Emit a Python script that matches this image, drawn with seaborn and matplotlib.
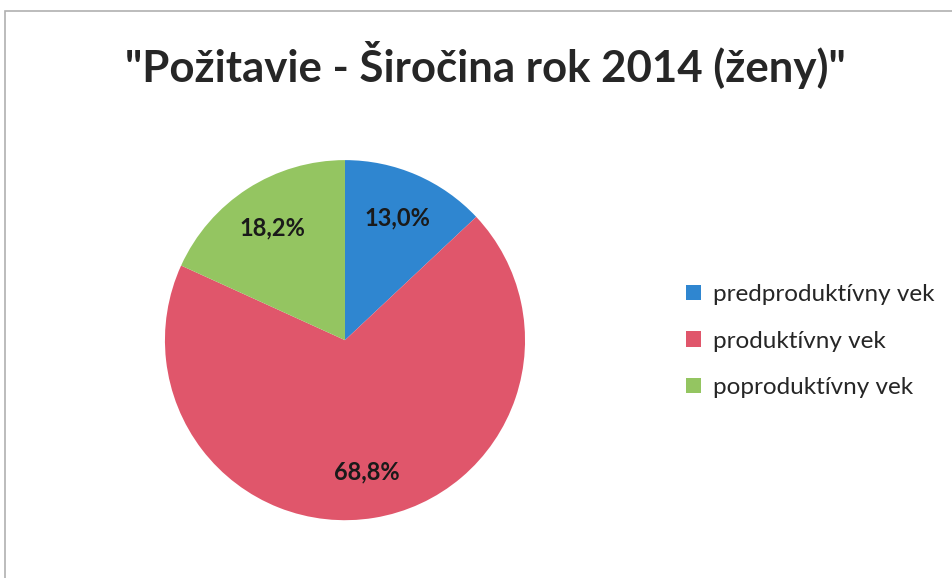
import matplotlib
matplotlib.use("Agg")
import matplotlib.pyplot as plt
import seaborn as sns
from matplotlib.patches import Rectangle

categories = ["predproduktívny vek", "produktívny vek", "poproduktívny vek"]
values = [13.0, 68.8, 18.2]
colors = ["#2f86d0", "#e0566b", "#94c561"]
title = '"Požitavie - Širočina rok 2014 (ženy)"'

sns.set_theme(style="white")
plt.rcParams["font.family"] = ["Lato", "DejaVu Sans"]

fig = plt.figure(figsize=(9.53, 5.78), dpi=100)
fig.patch.set_facecolor("white")

# light frame of the chart area (runs off the right and bottom)
fig.add_artist(Rectangle((5 / 953, -0.05), 1.2, 1 - 11 / 578 + 0.05,
                         transform=fig.transFigure, fill=False,
                         edgecolor="#b0b0b0", linewidth=1.2))

ax = fig.add_axes([0.173, 0.100, 0.378, 0.623])
wedges, texts, autotexts = ax.pie(
    values, colors=colors, startangle=90, counterclock=False,
    autopct=lambda p: f"{p:.1f}%".replace(".", ","), pctdistance=0.74,
    wedgeprops={"linewidth": 0},
    textprops={"fontsize": 17, "fontweight": "bold", "color": "#1a1a1a"})
ax.set_xlim(-1, 1)
ax.set_ylim(-1, 1)
ax.set_aspect("equal")

fig.text(0.509, 0.888, title, ha="center", va="center",
         fontsize=31.5, fontweight="bold", color="#262626")

fig.legend(wedges, categories, loc="center left",
           bbox_to_anchor=(0.697, 0.41), frameon=False,
           fontsize=17.5, handlelength=0.6, handleheight=0.6,
           handletextpad=0.5, labelspacing=1.05, labelcolor="#262626")

fig.savefig("out.png", dpi=100)
